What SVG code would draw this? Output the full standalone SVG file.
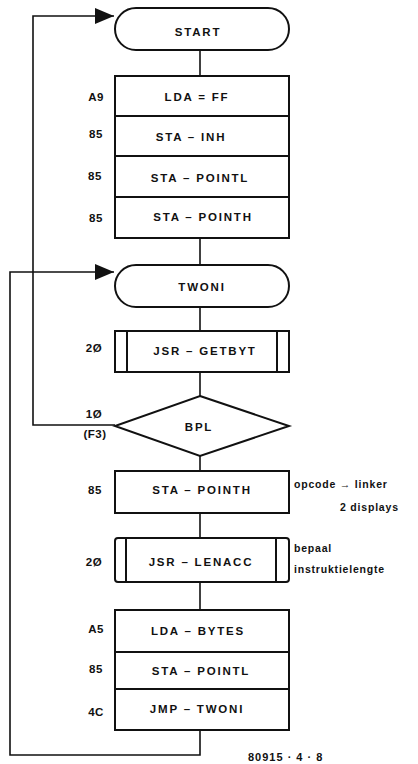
<svg xmlns="http://www.w3.org/2000/svg" width="418" height="764" viewBox="0 0 418 764">
<style>
.box{fill:#fff;stroke:#111;stroke-width:2}
.ln{fill:none;stroke:#111;stroke-width:1.6}
.t{font-family:"Liberation Sans",Arial,sans-serif;font-weight:bold;font-size:11.5px;letter-spacing:1.8px;fill:#111;text-anchor:middle}
.lb{font-family:"Liberation Sans",Arial,sans-serif;font-weight:bold;font-size:11.5px;letter-spacing:0.5px;fill:#111;text-anchor:middle}
.n{font-family:"Liberation Sans",Arial,sans-serif;font-weight:bold;font-size:10.5px;letter-spacing:0.8px;fill:#111}
</style>
<defs>
<marker id="ah" markerWidth="20" markerHeight="16" refX="19" refY="8" orient="auto" markerUnits="userSpaceOnUse">
<path d="M0,0 L19,8 L0,16 Z" fill="#111"/>
</marker>
</defs>
<rect width="418" height="764" fill="#fff"/>
<g id="connectors">
<line class="ln" x1="200" y1="50" x2="200" y2="76"/>
<line class="ln" x1="200" y1="238" x2="200" y2="265"/>
<line class="ln" x1="200" y1="307" x2="200" y2="331"/>
<line class="ln" x1="200" y1="372" x2="200" y2="396"/>
<line class="ln" x1="200" y1="456" x2="200" y2="471"/>
<line class="ln" x1="200" y1="513" x2="200" y2="538"/>
<line class="ln" x1="200" y1="582" x2="200" y2="610"/>
<polyline class="ln" points="115,425 33,425 33,16 114,16" marker-end="url(#ah)"/>
<polyline class="ln" points="200,730 200,755 10,755 10,272 114,272" marker-end="url(#ah)"/>
</g>
<g id="start">
<rect class="box" x="115" y="8" width="174" height="42" rx="21" ry="21"/>
<text class="t" x="198" y="36">START</text>
</g>
<g id="block1">
<rect class="box" x="115" y="76" width="174" height="162"/>
<line class="box" x1="115" y1="116" x2="289" y2="116"/>
<line class="box" x1="115" y1="156" x2="289" y2="156"/>
<line class="box" x1="115" y1="197" x2="289" y2="197"/>
<text class="t" x="197" y="101">LDA = FF</text>
<text class="t" x="191" y="141">STA – INH</text>
<text class="t" x="200" y="182">STA – POINTL</text>
<text class="t" x="203" y="221">STA – POINTH</text>
<text class="lb" x="96" y="101">A9</text>
<text class="lb" x="96" y="138">85</text>
<text class="lb" x="95" y="180">85</text>
<text class="lb" x="96" y="222">85</text>
</g>
<g id="twoni">
<rect class="box" x="115" y="265" width="174" height="42" rx="21" ry="21"/>
<text class="t" x="202" y="291">TWONI</text>
</g>
<g id="getbyt">
<rect class="box" x="115" y="331" width="174" height="41"/>
<line class="box" x1="127" y1="331" x2="127" y2="372"/>
<line class="box" x1="277" y1="331" x2="277" y2="372"/>
<text class="t" x="205" y="355">JSR – GETBYT</text>
<text class="lb" x="94" y="352">2Ø</text>
</g>
<g id="bpl">
<polygon class="box" points="200,396 289,426 200,456 115,426"/>
<text class="t" x="199" y="431">BPL</text>
<text class="lb" x="94" y="418">1Ø</text>
<text class="lb" x="95" y="438">(F3)</text>
</g>
<g id="pointh">
<rect class="box" x="115" y="471" width="174" height="42"/>
<text class="t" x="202" y="494">STA – POINTH</text>
<text class="lb" x="95" y="494">85</text>
<text class="n" x="294" y="488">opcode → linker</text>
<text class="n" x="340" y="511">2 displays</text>
</g>
<g id="lenacc">
<rect class="box" x="115" y="538" width="174" height="44" rx="3" ry="3"/>
<line class="box" x1="126" y1="538" x2="126" y2="582"/>
<line class="box" x1="276" y1="538" x2="276" y2="582"/>
<text class="t" x="201" y="566">JSR – LENACC</text>
<text class="lb" x="94" y="566">2Ø</text>
<text class="n" x="294" y="552">bepaal</text>
<text class="n" x="294" y="573">instruktielengte</text>
</g>
<g id="block3">
<rect class="box" x="115" y="610" width="174" height="120"/>
<line class="box" x1="115" y1="652" x2="289" y2="652"/>
<line class="box" x1="115" y1="689" x2="289" y2="689"/>
<text class="t" x="198" y="635">LDA – BYTES</text>
<text class="t" x="201" y="675">STA – POINTL</text>
<text class="t" x="197" y="713">JMP – TWONI</text>
<text class="lb" x="96" y="633">A5</text>
<text class="lb" x="96" y="673">85</text>
<text class="lb" x="96" y="716">4C</text>
</g>
<text class="n" x="248" y="761" style="font-size:11px;letter-spacing:1px">80915 · 4 · 8</text>
</svg>
